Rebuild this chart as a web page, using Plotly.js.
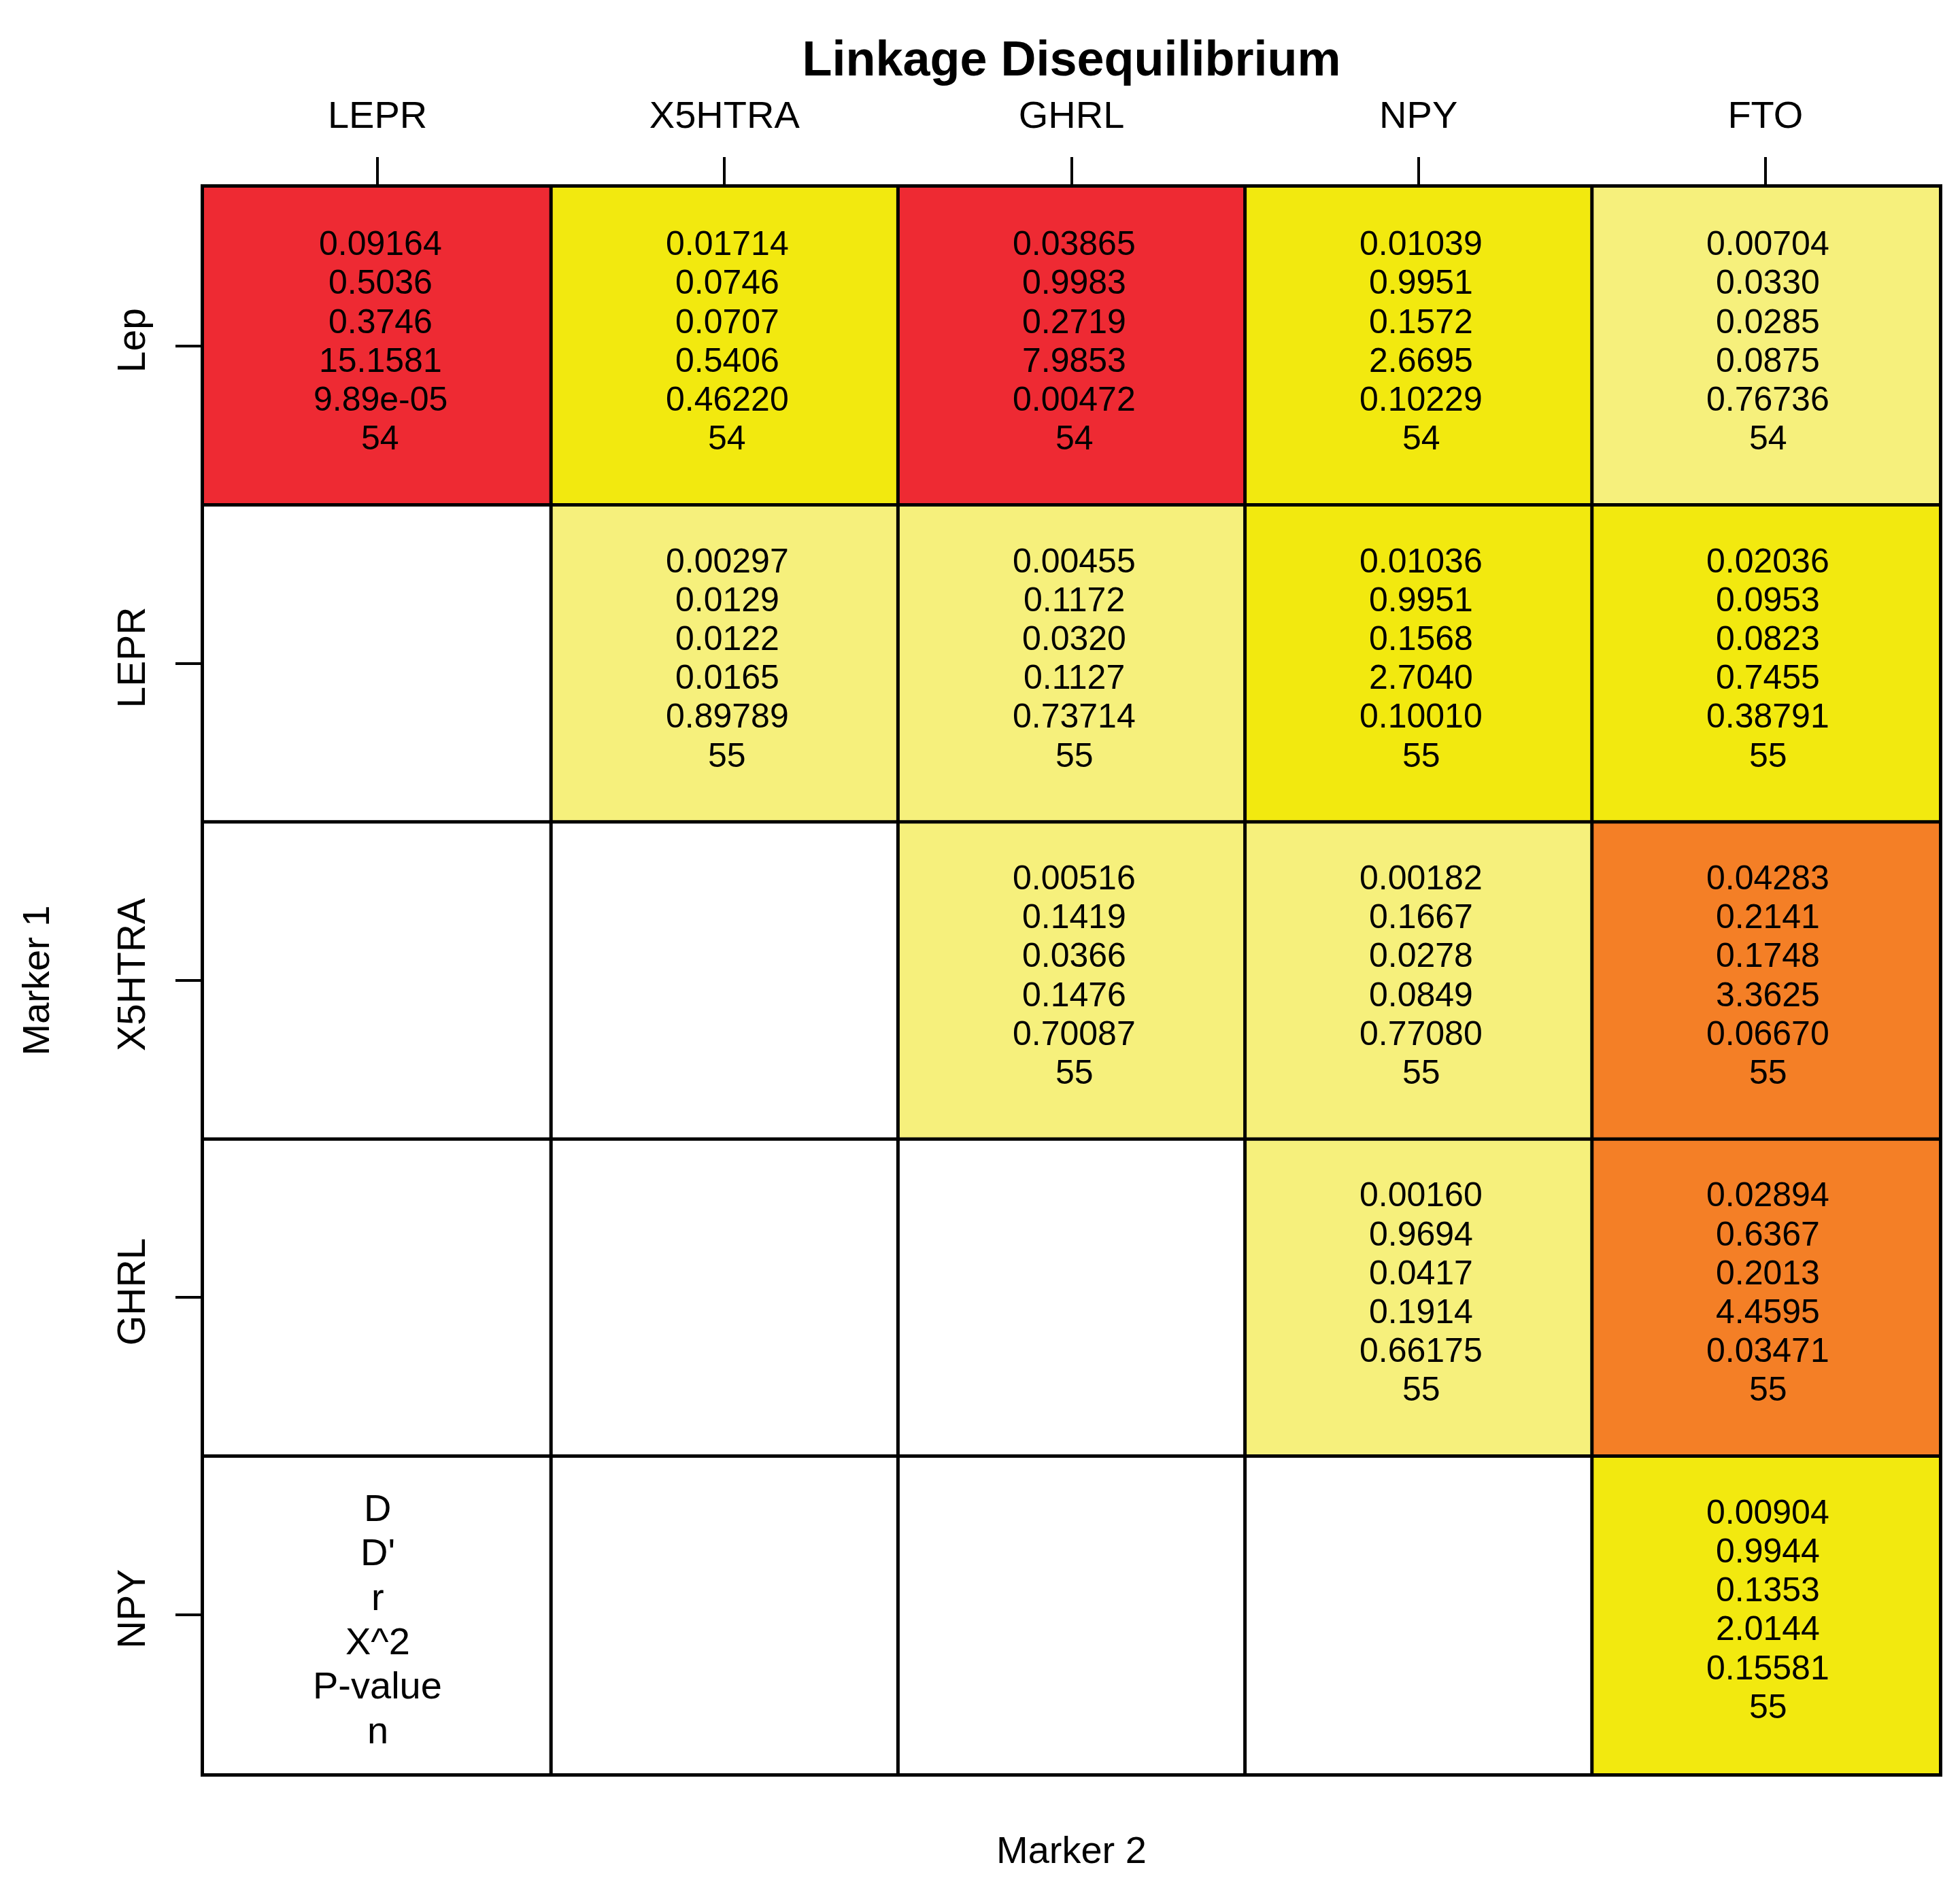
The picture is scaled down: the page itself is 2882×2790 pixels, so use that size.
<!DOCTYPE html>
<html>
<head>
<meta charset="utf-8">
<script src="https://cdn.plot.ly/plotly-3.0.1.min.js"></script>
<style>html,body{margin:0;padding:0;background:#ffffff;}</style>
</head>
<body>
<div id="chart" style="width:2882px;height:2790px;"></div>
<script>
// ---- data ----
const marker2 = ["LEPR", "X5HTRA", "GHRL", "NPY", "FTO"];          // columns (Marker 2)
const marker1 = ["Lep", "LEPR", "X5HTRA", "GHRL", "NPY"];          // rows (Marker 1)
const statLabels = ["D", "D'", "r", "X^2", "P-value", "n"];

const D = [
  [0.09164, 0.01714, 0.03865, 0.01039, 0.00704],
  [null,    0.00297, 0.00455, 0.01036, 0.02036],
  [null,    null,    0.00516, 0.00182, 0.04283],
  [null,    null,    null,    0.00160, 0.02894],
  [null,    null,    null,    null,    0.00904]
];
const Dprime = [
  [0.5036, 0.0746, 0.9983, 0.9951, 0.0330],
  [null,   0.0129, 0.1172, 0.9951, 0.0953],
  [null,   null,   0.1419, 0.1667, 0.2141],
  [null,   null,   null,   0.9694, 0.6367],
  [null,   null,   null,   null,   0.9944]
];
const rCorr = [
  [0.3746, 0.0707, 0.2719, 0.1572, 0.0285],
  [null,   0.0122, 0.0320, 0.1568, 0.0823],
  [null,   null,   0.0366, 0.0278, 0.1748],
  [null,   null,   null,   0.0417, 0.2013],
  [null,   null,   null,   null,   0.1353]
];
const chiSq = [
  [15.1581, 0.5406, 7.9853, 2.6695, 0.0875],
  [null,    0.0165, 0.1127, 2.7040, 0.7455],
  [null,    null,   0.1476, 0.0849, 3.3625],
  [null,    null,   null,   0.1914, 4.4595],
  [null,    null,   null,   null,   2.0144]
];
const pValue = [
  [9.89e-05, 0.46220, 0.00472, 0.10229, 0.76736],
  [null,     0.89789, 0.73714, 0.10010, 0.38791],
  [null,     null,    0.70087, 0.77080, 0.06670],
  [null,     null,    null,    0.66175, 0.03471],
  [null,     null,    null,    null,    0.15581]
];
const nObs = [
  [54,   54,   54,   54,   54],
  [null, 55,   55,   55,   55],
  [null, null, 55,   55,   55],
  [null, null, null, 55,   55],
  [null, null, null, null, 55]
];
// P-value colour bins
const pBreaks = [0, 0.01, 0.025, 0.1, 0.5, 1];
const binColors = ["#EE2A33", "#F1552C", "#F47F26", "#F2E90F", "#F6F07C"];
// cell holding the key to the six lines
const keyCell = {row: "NPY", col: "LEPR"};

// ---- build ----
const FONT = "Liberation Sans, Arial, Helvetica, sans-serif";

const colorscale = [];
for (let i = 0; i < binColors.length; i++) {
  colorscale.push([pBreaks[i], binColors[i]]);
  colorscale.push([pBreaks[i + 1], binColors[i]]);
}

function fmtP(p) {
  if (p < 0.001) {
    return p.toExponential(2).replace(/e([+-])(\d)$/, "e$10$2");
  }
  return p.toFixed(5);
}

const heat = {
  type: "heatmap",
  x: marker2,
  y: marker1,
  z: pValue,
  zmin: 0,
  zmax: 1,
  colorscale: colorscale,
  showscale: false,
  hoverongaps: false,
  zsmooth: false
};

const annotations = [];
const lineGap = 57.2, blockOffset = -8;
for (let i = 0; i < marker1.length; i++) {
  for (let j = 0; j < marker2.length; j++) {
    if (D[i][j] === null) continue;
    const lines = [
      D[i][j].toFixed(5),
      Dprime[i][j].toFixed(4),
      rCorr[i][j].toFixed(4),
      chiSq[i][j].toFixed(4),
      fmtP(pValue[i][j]),
      String(nObs[i][j])
    ];
    lines.forEach((t, k) => {
      annotations.push({
        x: marker2[j], y: marker1[i], xref: "x", yref: "y",
        text: t, showarrow: false,
        xanchor: "center", yanchor: "middle",
        xshift: 4,
        yshift: -(blockOffset + (k - 2.5) * lineGap),
        font: {family: FONT, size: 50, color: "#000000"}
      });
    });
  }
}
const keyGap = 65.4, keyOffset = 6;
statLabels.forEach((t, k) => {
  annotations.push({
    x: keyCell.col, y: keyCell.row, xref: "x", yref: "y",
    text: t, showarrow: false,
    xanchor: "center", yanchor: "middle",
    yshift: -(keyOffset + (k - 2.5) * keyGap),
    font: {family: FONT, size: 56, color: "#000000"}
  });
});
// bottom label for Marker 2 (axis itself is on top)
annotations.push({
  x: 0.5, y: 0, xref: "paper", yref: "paper",
  text: "Marker 2", showarrow: false,
  xanchor: "center", yanchor: "middle", yshift: -112,
  font: {family: FONT, size: 56, color: "#000000"}
});

const shapes = [];
for (let k = 1; k < marker2.length; k++) {
  shapes.push({type: "line", xref: "x", yref: "paper", x0: k - 0.5, x1: k - 0.5, y0: 0, y1: 1,
               line: {color: "#000000", width: 5}, layer: "above"});
}
for (let k = 1; k < marker1.length; k++) {
  shapes.push({type: "line", xref: "paper", yref: "y", x0: 0, x1: 1, y0: k - 0.5, y1: k - 0.5,
               line: {color: "#000000", width: 5}, layer: "above"});
}

const layout = {
  width: 2882,
  height: 2790,
  margin: {l: 300, r: 31, t: 276, b: 182},
  paper_bgcolor: "#ffffff",
  plot_bgcolor: "#ffffff",
  font: {family: FONT, color: "#000000"},
  title: {
    text: "<b>Linkage Disequilibrium</b>",
    xref: "paper", x: 0.5, xanchor: "center",
    yref: "container", y: 1 - 86 / 2790, yanchor: "middle",
    font: {family: FONT, size: 72, color: "#000000"}
  },
  xaxis: {
    type: "category",
    categoryorder: "array", categoryarray: marker2,
    side: "top",
    range: [-0.5, marker2.length - 0.5],
    showgrid: false, zeroline: false,
    showline: true, mirror: true, linecolor: "#000000", linewidth: 5,
    ticks: "outside", ticklen: 40, tickwidth: 4, tickcolor: "#000000",
    ticklabelstandoff: 21,
    tickfont: {family: FONT, size: 56, color: "#000000"},
    fixedrange: true
  },
  yaxis: {
    type: "category",
    categoryorder: "array", categoryarray: marker1,
    range: [marker1.length - 0.5, -0.5],
    showgrid: false, zeroline: false,
    showline: true, mirror: true, linecolor: "#000000", linewidth: 5,
    ticks: "outside", ticklen: 37, tickwidth: 4, tickcolor: "#000000",
    tickangle: -90,
    ticklabelstandoff: 22,
    tickfont: {family: FONT, size: 57, color: "#000000"},
    title: {text: "Marker 1", standoff: 72, font: {family: FONT, size: 56, color: "#000000"}},
    fixedrange: true
  },
  annotations: annotations,
  shapes: shapes,
  showlegend: false
};

Plotly.newPlot("chart", [heat], layout, {displayModeBar: false, staticPlot: true});
</script>
</body>
</html>
